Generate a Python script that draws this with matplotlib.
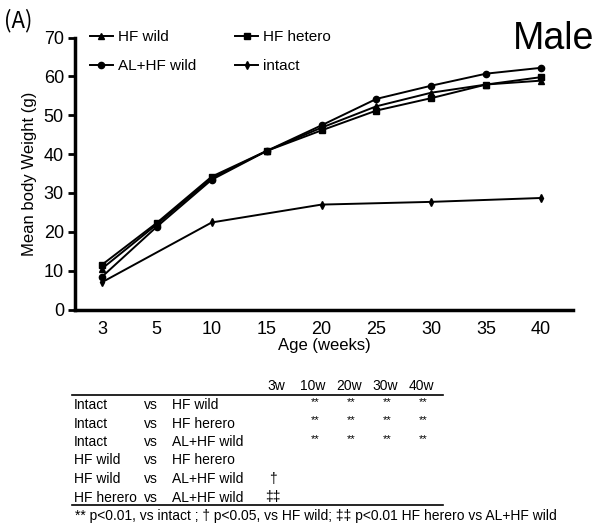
import matplotlib.pyplot as plt
from matplotlib.lines import Line2D

plt.rcParams['font.family'] = ['Liberation Sans', 'DejaVu Sans']

# data
weeks = ['3', '5', '10', '15', '20', '25', '30', '35', '40']
hf_wild = [10.5, 21.9, 33.8, 40.8, 46.8, 52.3, 55.8, 57.9, 58.9]
hf_hetero = [11.5, 22.3, 34.2, 40.8, 46.1, 51.2, 54.4, 57.9, 59.8]
al_hf_wild = [8.4, 21.3, 33.4, 40.8, 47.4, 54.2, 57.6, 60.7, 62.2]
intact_weeks = ['3', '10', '20', '30', '40']
intact = [7.0, 22.4, 27.0, 27.7, 28.7]

# statistics table
table_rows = [
    ('Intact', 'vs', 'HF wild'),
    ('Intact', 'vs', 'HF herero'),
    ('Intact', 'vs', 'AL+HF wild'),
    ('HF wild', 'vs', 'HF herero'),
    ('HF wild', 'vs', 'AL+HF wild'),
    ('HF herero', 'vs', 'AL+HF wild'),
]
table_cols = ['3w', '10w', '20w', '30w', '40w']
table_marks = [
    ['', '**', '**', '**', '**'],
    ['', '**', '**', '**', '**'],
    ['', '**', '**', '**', '**'],
    ['', '', '', '', ''],
    ['\u2020', '', '', '', ''],
    ['\u2021\u2021', '', '', '', ''],
]
footnote = ('** p<0.01, vs intact ; \u2020 p<0.05, vs HF wild; '
            '\u2021\u2021 p<0.01 HF herero vs AL+HF wild')

W, H = 595, 526
fig = plt.figure(figsize=(W / 100, H / 100), dpi=100)


def px(x, y):
    return x / W, 1 - y / H


ax = fig.add_axes([75 / W, 1 - 309.5 / H, (573 - 75) / W, 272 / H])

xi = {w: i for i, w in enumerate(weeks)}
ax.plot([xi[w] for w in weeks], hf_wild, '-^', color='black', lw=1.4, ms=4.5, label='HF wild')
ax.plot([xi[w] for w in weeks], al_hf_wild, '-o', color='black', lw=1.4, ms=4.5, label='AL+HF wild')
ax.plot([xi[w] for w in weeks], hf_hetero, '-s', color='black', lw=1.4, ms=4, label='HF hetero')
ax.plot([xi[w] for w in intact_weeks], intact, '-d', color='black', lw=1.4, ms=4, label='intact')

ax.set_xlim(-0.49, 8.58)
ax.set_ylim(0, 70)
ax.set_xticks(range(len(weeks)))
ax.set_xticklabels(weeks)
ax.set_yticks(range(0, 71, 10))
ax.tick_params(axis='x', length=0, labelsize=13, pad=8)
ax.tick_params(axis='y', length=5, width=2, direction='out', labelsize=13, pad=3)
for s in ['top', 'right']:
    ax.spines[s].set_visible(False)
for s in ['left', 'bottom']:
    ax.spines[s].set_linewidth(2.5)
ax.set_xlabel('Age (weeks)', fontsize=12, labelpad=0)
ax.set_ylabel('Mean body Weight (g)', fontsize=12, labelpad=5)

ax.legend(ncol=2, loc='upper left', bbox_to_anchor=px(90, 30), bbox_transform=fig.transFigure,
          frameon=False, fontsize=11, handlelength=1.5, handletextpad=0.3,
          labelspacing=1.0, columnspacing=2.6, borderpad=0, borderaxespad=0)

fig.text(*px(4, 21), '(A)', fontsize=16, va='center', ha='left',
         family=['Noto Sans CJK JP', 'DejaVu Sans'])
fig.text(*px(594, 39), 'Male', fontsize=27, va='center', ha='right')

# table
col_x = [74, 144, 172]
mark_x = [276, 313, 349, 385, 421]
row_y = [405, 423.5, 442, 460.5, 479, 497.5]
for j, c in enumerate(table_cols):
    fig.text(*px(mark_x[j], 386.5), c, fontsize=10, ha='center', va='center')
for i, row in enumerate(table_rows):
    for k, t in enumerate(row):
        fig.text(*px(col_x[k], row_y[i]), t, fontsize=10, ha='left', va='center')
    for j, m in enumerate(table_marks[i]):
        if m:
            if m == '**':
                fig.text(*px(mark_x[j] + 2, row_y[i] - 3), m, fontsize=8, ha='center', va='center')
            else:
                fig.text(*px(mark_x[j] - 3, row_y[i]), m, fontsize=10, ha='center', va='center')
for yy in [395, 504.5]:
    fig.add_artist(Line2D([72 / W, 443 / W], [1 - yy / H, 1 - yy / H], color='black', lw=1.2))
fig.text(*px(75, 516), footnote, fontsize=10, ha='left', va='center')

fig.savefig('out.png', dpi=100)
